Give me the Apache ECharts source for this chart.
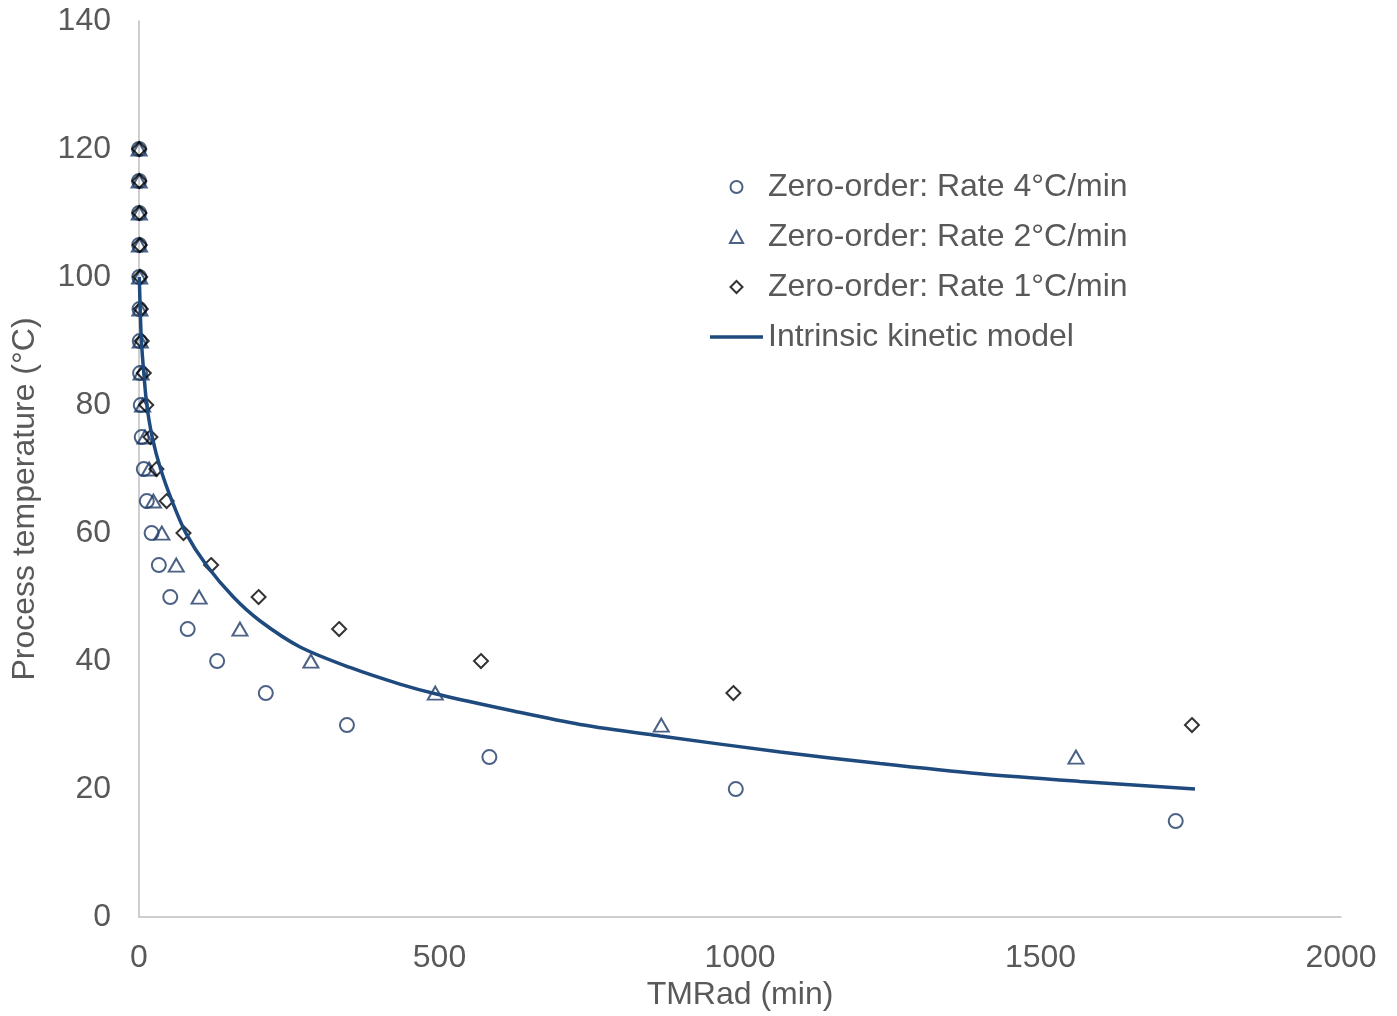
<!DOCTYPE html>
<html>
<head>
<meta charset="utf-8">
<script src="https://cdn.jsdelivr.net/npm/echarts@6/dist/echarts.min.js"></script>
<style>
html,body{margin:0;padding:0;background:#fff;}
#chart{width:1397px;height:1016px;}
</style>
</head>
<body>
<div id="chart"></div>
<script>
// Temperatures (°C) and TMRad readings (min)
const rate4Temp = [120,115,110,105,100,95,90,85,80,75,70,65,60,55,50,45,40,35,30,25,20,15];
const rate4TMR  = [0.1,0.15,0.2,0.35,0.5,0.8,1.2,1.8,3,4.5,8,13,21,33,52,81,130,211,346,583,993,1725];

const rate2Temp = [120,115,110,105,100,95,90,85,80,75,70,65,60,55,50,45,40,35,30,25];
const rate2TMR  = [0.2,0.3,0.5,0.7,1,1.5,2.2,3.5,6,10,17,24,38,62,100,168,286,493,869,1559];

const rate1Temp = [120,115,110,105,100,95,90,85,80,75,70,65,60,55,50,45,40,35,30];
const rate1TMR  = [0.3,0.5,0.8,1.3,2,3,4.5,8,12,19,29,46,74,120,199,333,569,989,1752];

const modelTMR  = [0.5,2,4,8,13,22,36,55,78,112,157,201,268,351,434,493,623,734,867,1067,1233,1399,1566,1757];
const modelTemp = [100,95,90,85,80,75,70,65,60,55,50,46.3,42.2,39,36.4,34.9,32.2,30.1,28.3,25.8,24,22.4,21.2,20];

const xTicks = [0,500,1000,1500,2000];
const yTicks = [0,20,40,60,80,100,120,140];

const seriesNames = ['Zero-order: Rate 4°C/min','Zero-order: Rate 2°C/min','Zero-order: Rate 1°C/min','Intrinsic kinetic model'];

const pair = (xs, ys) => xs.map((x, i) => [x, ys[i]]);

const blue = '#1f3b66';
const lineBlue = '#1f4a7e';
const textColor = '#595959';
const font = 'Liberation Sans, Arial, sans-serif';

const chart = echarts.init(document.getElementById('chart'), null, {renderer: 'canvas'});
chart.setOption({
  animation: false,
  backgroundColor: '#ffffff',
  grid: {left: 139, right: 56, top: 21, bottom: 95, containLabel: false},
  xAxis: {
    type: 'value', min: xTicks[0], max: xTicks[xTicks.length-1], interval: 500,
    name: 'TMRad (min)', nameLocation: 'middle', nameGap: 60,
    nameTextStyle: {fontSize: 32, color: textColor, fontFamily: font},
    axisLine: {show: true, lineStyle: {color: '#bfbfbf', width: 1.5}},
    axisTick: {show: false},
    splitLine: {show: false},
    axisLabel: {fontSize: 32, color: textColor, fontFamily: font, margin: 25,
                formatter: v => String(v)}
  },
  yAxis: {
    type: 'value', min: yTicks[0], max: yTicks[yTicks.length-1], interval: 20,
    axisLine: {show: true, lineStyle: {color: '#bfbfbf', width: 1.5}},
    axisTick: {show: false},
    splitLine: {show: false},
    axisLabel: {fontSize: 32, color: textColor, fontFamily: font, margin: 28,
                formatter: v => String(v)}
  },
  graphic: [{
    type: 'text', x: 25, y: 499, rotation: Math.PI / 2,
    style: {text: 'Process temperature (°C)', fontSize: 32, fill: textColor, fontFamily: font,
            align: 'center', verticalAlign: 'middle'}
  }],
  legend: {
    orient: 'vertical', left: 710, top: 171, padding: 0,
    itemWidth: 53, itemHeight: 12, itemGap: 18, symbolKeepAspect: true,
    textStyle: {fontSize: 32, color: textColor, fontFamily: font},
    data: [
      {name: seriesNames[0], icon: 'circle'},
      {name: seriesNames[1], icon: 'path://M6,0L12,11L0,11Z'},
      {name: seriesNames[2], icon: 'path://M6,0L12,6L6,12L0,6Z'},
      {name: seriesNames[3], icon: 'path://M0,0L53,0L53,3.5L0,3.5Z',
       itemStyle: {color: lineBlue, borderWidth: 0}}
    ]
  },
  series: [
    {
      name: seriesNames[0], type: 'scatter', data: pair(rate4TMR, rate4Temp),
      symbol: 'circle', symbolSize: 14,
      itemStyle: {color: 'rgba(255,255,255,0)', borderColor: blue, borderWidth: 2}
    },
    {
      name: seriesNames[1], type: 'scatter', data: pair(rate2TMR, rate2Temp),
      symbol: 'triangle', symbolSize: [15, 13],
      itemStyle: {color: 'rgba(255,255,255,0)', borderColor: blue, borderWidth: 2}
    },
    {
      name: seriesNames[3], type: 'line', data: pair(modelTMR, modelTemp),
      symbol: 'none', showSymbol: false, smooth: 0.3,
      lineStyle: {color: lineBlue, width: 3.5},
      itemStyle: {color: lineBlue}
    },
    {
      name: seriesNames[2], type: 'scatter', data: pair(rate1TMR, rate1Temp),
      symbol: 'diamond', symbolSize: 14,
      itemStyle: {color: 'rgba(255,255,255,0)', borderColor: '#000000', borderWidth: 2}
    }
  ]
});
</script>
</body>
</html>
